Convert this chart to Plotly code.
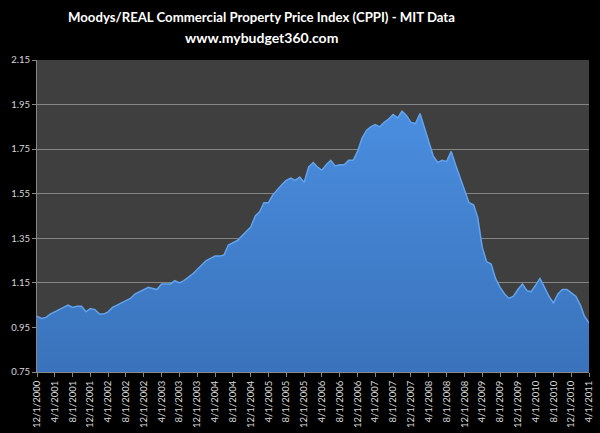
import pandas as pd
import plotly.graph_objects as go

start_month = "2000-12-01"
end_month = "2011-04-01"
cppi = [
    1.00, 0.99, 0.995, 1.01, 1.02, 1.03, 1.04, 1.05, 1.04, 1.045,
    1.045, 1.02, 1.035, 1.03, 1.01, 1.01, 1.02, 1.04, 1.05, 1.06,
    1.07, 1.08, 1.10, 1.11, 1.12, 1.13, 1.125, 1.12, 1.145, 1.145,
    1.145, 1.16, 1.15, 1.16, 1.175, 1.19, 1.21, 1.23, 1.25, 1.26,
    1.27, 1.27, 1.275, 1.32, 1.33, 1.34, 1.36, 1.38, 1.40, 1.45,
    1.47, 1.51, 1.51, 1.545, 1.57, 1.59, 1.61, 1.62, 1.61, 1.625,
    1.60, 1.67, 1.69, 1.67, 1.655, 1.68, 1.70, 1.675, 1.68, 1.68,
    1.70, 1.70, 1.74, 1.80, 1.835, 1.85, 1.86, 1.85, 1.87, 1.885,
    1.905, 1.89, 1.92, 1.90, 1.87, 1.865, 1.91, 1.85, 1.79, 1.72,
    1.69, 1.70, 1.695, 1.74, 1.68, 1.62, 1.56, 1.51, 1.50, 1.445,
    1.31, 1.245, 1.235, 1.17, 1.13, 1.10, 1.08, 1.09, 1.12, 1.145,
    1.115, 1.11, 1.14, 1.17, 1.13, 1.09, 1.06, 1.10, 1.12, 1.12,
    1.105, 1.09, 1.05, 1.00, 0.97,
]
title_line1 = "Moodys/REAL Commercial Property Price Index (CPPI) - MIT Data"
title_line2 = "www.mybudget360.com"

dates = pd.date_range(start_month, end_month, freq="MS")
tick_dates = dates[::4]
tick_labels = [f"{d.month}/{d.day}/{d.year}" for d in tick_dates]
y_ticks = [0.75, 0.95, 1.15, 1.35, 1.55, 1.75, 1.95, 2.15]

fig = go.Figure()
fig.add_trace(go.Scatter(
    x=dates, y=cppi, mode="lines",
    line=dict(color="#62a3ee", width=1.5),
    fill="tozeroy",
    fillgradient=dict(type="vertical",
                      colorscale=[[0, "#2f62a4"], [1, "#4a8ddf"]]),
    hoverinfo="x+y",
))

fam = "Lato, Open Sans, sans-serif"
fig.update_layout(
    width=600, height=433,
    paper_bgcolor="#000000",
    plot_bgcolor="#3f3f3f",
    margin=dict(l=37, r=11, t=60, b=61, autoexpand=False),
    showlegend=False,
    font=dict(family=fam, color="#d8d8d8", size=9),
    annotations=[
        dict(text=title_line1, x=0.406, xref="paper", y=1.138, yref="paper",
             xanchor="center", yanchor="middle", showarrow=False,
             font=dict(family=fam, size=13.2, color="#ffffff", weight="bold")),
        dict(text=title_line2, x=0.406, xref="paper", y=1.071, yref="paper",
             xanchor="center", yanchor="middle", showarrow=False,
             font=dict(family=fam, size=14, color="#ffffff", weight="bold")),
    ],
)
fig.update_xaxes(
    range=[dates[0], dates[-1]], automargin=False,
    tickvals=tick_dates, ticktext=tick_labels, tickangle=-90,
    showgrid=False, ticks="outside", ticklen=4, tickcolor="#888888",
    showline=True, linecolor="#888888", linewidth=1,
    tickfont=dict(size=9.5, color="#d8d8d8"),
)
fig.update_yaxes(
    range=[0.75, 2.15], automargin=False,
    tickvals=y_ticks, ticktext=[f"{v:.2f}" for v in y_ticks],
    showgrid=True, gridcolor="#858585", gridwidth=1,
    ticks="outside", ticklen=4, tickcolor="#888888",
    showline=True, linecolor="#888888", linewidth=1,
    zeroline=False,
    tickfont=dict(size=9.5, color="#d8d8d8"),
)
fig.write_html(
    "out.html",
    config={"displayModeBar": False},
    post_script="document.body.style.margin='0';document.body.style.overflow='hidden';document.body.style.background='#000';",
)
